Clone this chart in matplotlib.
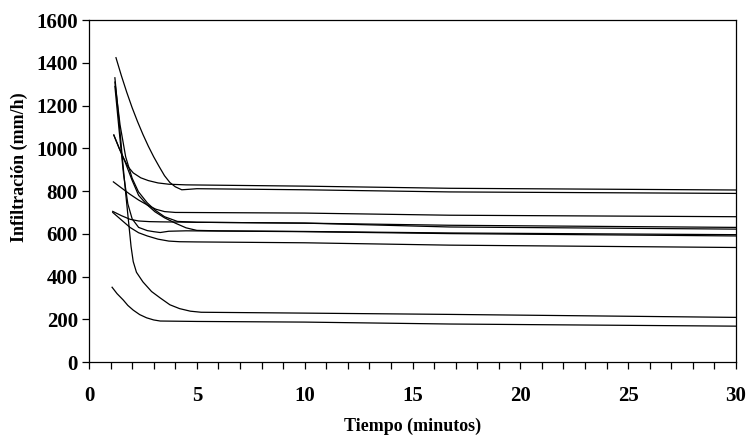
import matplotlib
matplotlib.use("Agg")
import matplotlib.pyplot as plt
from matplotlib.ticker import MultipleLocator

# Infiltration curves (minutes, mm/h)
a_x = [1.25, 1.5, 1.75, 2.0, 2.25, 2.5, 2.75, 3.0, 3.25, 3.5, 3.75, 4.0, 4.3, 4.6, 5.0, 10, 16.7, 30]
a_y = [1424, 1340, 1262, 1190, 1125, 1065, 1010, 960, 915, 872, 840, 820, 806, 808, 811, 806, 796, 789]

b_x = [1.15, 1.4, 1.6, 1.8, 2.05, 2.4, 2.75, 3.2, 3.7, 4.5, 10, 16.7, 30]
b_y = [1062, 1000, 955, 915, 885, 862, 849, 838, 832, 829, 823, 813, 805]

c_x = [1.2, 1.4, 1.55, 1.7, 1.85, 1.95, 2.05, 2.2, 2.5, 2.9, 3.3, 3.75, 4.2, 4.7, 5.2, 10, 16.7, 30]
c_y = [1330, 1120, 950, 790, 640, 540, 470, 420, 375, 330, 300, 268, 250, 238, 233, 229, 223, 209]

d_x = [1.2, 1.44, 1.7, 2.0, 2.29, 2.7, 3.06, 3.5, 4.1, 5.0, 10, 16.7, 30]
d_y = [1310, 1109, 960, 860, 797, 745, 711, 680, 658, 654, 650, 640, 630]

e_x = [1.15, 1.4, 1.67, 2.0, 2.3, 2.7, 3.06, 3.5, 4.0, 4.5, 5.0, 6.0, 10, 16.7, 30]
e_y = [1062, 1000, 937, 850, 780, 735, 703, 675, 650, 628, 616, 614, 611, 604, 596]

f_x = [1.13, 1.5, 1.9, 2.3, 2.7, 3.1, 3.5, 4.0, 10, 16.7, 30]
f_y = [843, 815, 785, 758, 735, 715, 704, 700, 697, 687, 680]

g_x = [1.1, 1.5, 1.9, 2.3, 2.8, 3.3, 5.0, 10, 16.7, 30]
g_y = [705, 685, 668, 660, 657, 656, 654, 650, 632, 622]

h_x = [1.1, 1.5, 1.9, 2.3, 2.7, 3.2, 3.7, 4.2, 5.0, 10, 16.7, 30]
h_y = [700, 665, 630, 605, 590, 575, 566, 563, 562, 558, 547, 536]

i_x = [1.07, 1.3, 1.59, 1.8, 2.05, 2.35, 2.67, 3.0, 3.3, 5.0, 10, 16.7, 30]
i_y = [350, 320, 290, 265, 243, 222, 207, 197, 192, 190, 187, 178, 168]

j_x = [1.2, 1.4, 1.6, 1.8, 2.0, 2.3, 2.7, 3.0, 3.3, 3.7, 4.5, 10, 16.7, 30]
j_y = [1290, 1080, 880, 740, 670, 630, 615, 610, 606, 612, 614, 610, 601, 590]

curves = [(a_x, a_y), (b_x, b_y), (c_x, c_y), (d_x, d_y), (e_x, e_y),
          (f_x, f_y), (g_x, g_y), (h_x, h_y), (i_x, i_y), (j_x, j_y)]

plt.rcParams["font.family"] = ["Liberation Serif", "DejaVu Serif"]
plt.rcParams["font.weight"] = "bold"

fig = plt.figure(figsize=(7.48, 4.41), dpi=100, facecolor="white")
ax = fig.add_axes([0.119, 0.179, 0.865, 0.7755])

for xs, ys in curves:
    ax.plot(xs, ys, color="black", linewidth=0.9)

ax.set_xlim(0, 30)
ax.set_ylim(0, 1600)
ax.xaxis.set_major_locator(MultipleLocator(5))
ax.xaxis.set_minor_locator(MultipleLocator(1))
ax.yaxis.set_major_locator(MultipleLocator(200))

ax.tick_params(axis="both", which="both", direction="out", color="black",
               labelsize=15, width=0.9)
ax.tick_params(axis="x", which="both", length=5)
ax.tick_params(axis="x", which="major", pad=12)
ax.tick_params(axis="y", which="major", length=5, pad=3)
for lbl in ax.get_xticklabels() + ax.get_yticklabels():
    lbl.set_fontweight("bold")

for spine in ax.spines.values():
    spine.set_color("black")
    spine.set_linewidth(0.9)

ax.set_xlabel("Tiempo (minutos)", fontsize=13, fontweight="bold")
ax.set_ylabel("Infiltración (mm/h)", fontsize=13, fontweight="bold")
ax.xaxis.set_label_coords(0.5, -0.164)
ax.yaxis.set_label_coords(-0.095, 0.57)

fig.savefig("out.png", dpi=100, facecolor="white")
